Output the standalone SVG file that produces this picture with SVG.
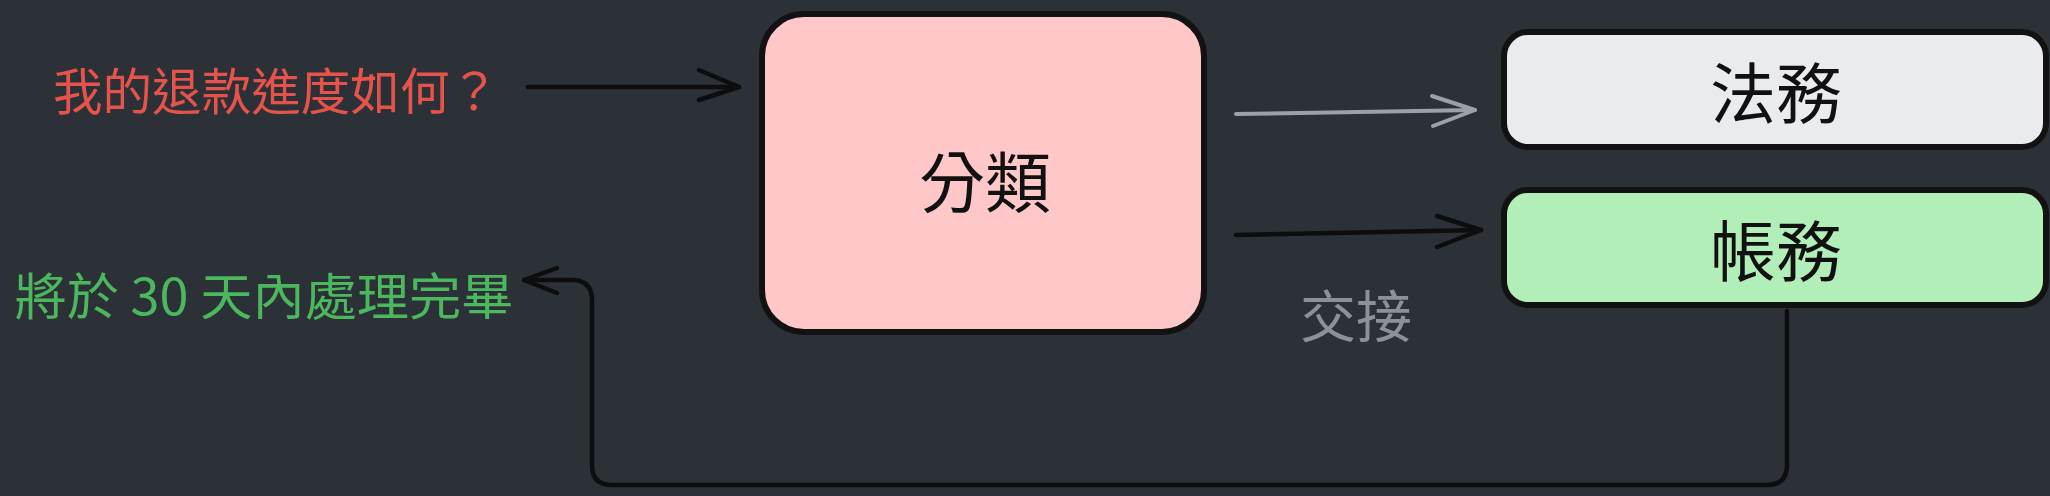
<svg xmlns="http://www.w3.org/2000/svg" width="2050" height="496" viewBox="0 0 2050 496">
<style>
  .txt { font-family: "Noto Sans CJK TC", "Noto Sans", "Liberation Sans", sans-serif; dominant-baseline: central; text-anchor: middle; }
  .box { stroke: #121212; stroke-width: 6; }
  .ln { fill: none; stroke-linecap: round; stroke-linejoin: round; }
  .blk { stroke: #0d0d0d; stroke-width: 4.5; }
  .gry { stroke: #9ba1a8; stroke-width: 4; }
</style>
<rect x="0" y="0" width="2050" height="496" fill="#2c3037"/>

<g id="question">
  <text class="txt" x="276" y="88" font-size="50" fill="#e5534b" textLength="446" lengthAdjust="spacingAndGlyphs">我的退款進度如何？</text>
</g>

<g id="answer">
  <text class="txt" x="264" y="293" font-size="50" fill="#4cb85e" textLength="499" lengthAdjust="spacingAndGlyphs">將於 30 天內處理完畢</text>
</g>

<g id="classify">
  <rect class="box" x="762" y="14" width="442" height="318" rx="42" ry="42" fill="#ffc7c7"/>
  <text class="txt" x="985" y="178" font-size="66" fill="#111">分類</text>
</g>

<g id="legal">
  <rect class="box" x="1504" y="32" width="542" height="115" rx="24" ry="24" fill="#e9ebee"/>
  <text class="txt" x="1776" y="89" font-size="66" fill="#111">法務</text>
</g>

<g id="billing">
  <rect class="box" x="1504" y="190" width="542" height="115" rx="24" ry="24" fill="#b2efb8"/>
  <text class="txt" x="1776" y="247" font-size="66" fill="#111">帳務</text>
</g>

<g id="connectors">
  <path class="ln blk" d="M528,87 L739,87"/>
  <path class="ln blk" d="M699,70 L739,87 L699,100"/>

  <path class="ln gry" d="M1236,114 L1475,110"/>
  <path class="ln gry" d="M1432,96 L1475,110 L1433,126"/>

  <path class="ln blk" d="M1236,235 L1481,230"/>
  <path class="ln blk" d="M1437,216 L1481,230 L1437,247"/>

  <path class="ln blk" d="M1787,311 L1787,465 Q1787,485 1767,485 L612,485 Q592,485 592,465 L592,300 Q592,280 572,280 L524,280"/>
  <path class="ln blk" d="M557,268 L524,280 L557,293"/>

  <text class="txt" x="1356" y="312" font-size="56" fill="#8c9198">交接</text>
</g>
</svg>
